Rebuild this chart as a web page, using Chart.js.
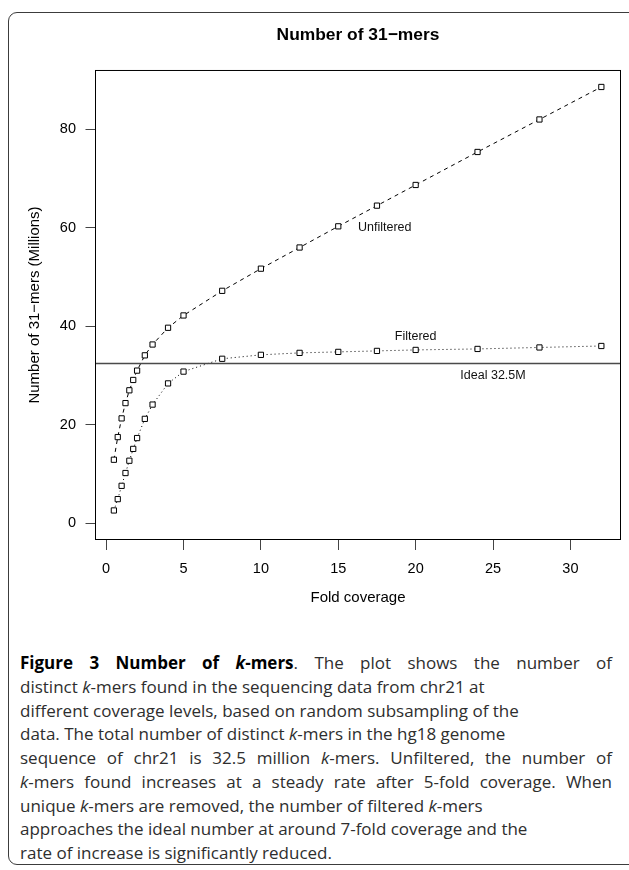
<!DOCTYPE html>
<html>
<head>
<meta charset="utf-8">
<script src="https://cdn.jsdelivr.net/npm/chart.js@4.4.1/dist/chart.umd.min.js"></script>
<style>
  body { margin: 0; width: 629px; height: 870px; overflow: hidden; background: #fff; position: relative; }
  .frame { position: absolute; left: 8px; top: 12px; width: 640px; height: 853px;
           border: 1.5px solid #3c3c3c; border-radius: 9px; box-sizing: border-box; }
  #plot { position: absolute; left: 0; top: 0; width: 629px; height: 620px; }
  .caption { position: absolute; left: 20px; top: 651px; width: 592px;
             font-family: "Open Sans", "DejaVu Sans Condensed", sans-serif;
             font-size: 17px; line-height: 23.75px; color: #2e2e2e; }
  .caption div { white-space: nowrap; }
  .caption .full { text-align: justify; text-align-last: justify; }
  .caption b { color: #000; }
</style>
</head>
<body>
<div class="frame"></div>
<div id="plot"><canvas id="chart" width="629" height="620"></canvas></div>
<div class="caption">
  <div class="full"><b>Figure 3 Number of <i>k</i>-mers</b>. The plot shows the number of</div>
  <div>distinct <i>k</i>-mers found in the sequencing data from chr21 at</div>
  <div>different coverage levels, based on random subsampling of the</div>
  <div>data. The total number of distinct <i>k</i>-mers in the hg18 genome</div>
  <div class="full">sequence of chr21 is 32.5 million <i>k</i>-mers. Unfiltered, the number of</div>
  <div class="full"><i>k</i>-mers found increases at a steady rate after 5-fold coverage. When</div>
  <div>unique <i>k</i>-mers are removed, the number of filtered <i>k</i>-mers</div>
  <div>approaches the ideal number at around 7-fold coverage and the</div>
  <div>rate of increase is significantly reduced.</div>
</div>
<script>
// datos
var FOLD = [0.5, 0.75, 1, 1.25, 1.5, 1.75, 2, 2.5, 3, 4, 5, 7.5, 10, 12.5, 15, 17.5, 20, 24, 28, 32];
var UNFILTERED = [12.9, 17.5, 21.3, 24.4, 27.0, 29.1, 31.0, 34.1, 36.3, 39.7, 42.2, 47.2, 51.7, 56.0, 60.3, 64.5, 68.7, 75.4, 82.0, 88.6];
var FILTERED = [2.6, 4.9, 7.6, 10.2, 12.7, 15.1, 17.3, 21.2, 24.1, 28.4, 30.8, 33.4, 34.2, 34.6, 34.8, 35.0, 35.2, 35.4, 35.7, 36.0];
var IDEAL = 32.5;
var X_TICKS = [0, 5, 10, 15, 20, 25, 30];
var Y_TICKS = [0, 20, 40, 60, 80];
// etiquetas de texto dentro del grafico (en unidades de datos)
var NOTE_TEXT = ['Unfiltered', 'Filtered', 'Ideal 32.5M'];
var NOTE_X = [18, 20, 25];
var NOTE_Y = [60, 38, 30];

var FONT = '"Liberation Sans", Arial, sans-serif';

function toPoints(xs, ys) {
    return xs.map((x, i) => ({ x: x, y: ys[i] }));
}

// caja completa alrededor del area del grafico + linea ideal + textos
var boxPlugin = {
    id: 'rbox',
    afterDatasetsDraw: function(chart) {
        var ctx = chart.ctx;
        var a = chart.chartArea;
        var xs = chart.scales.x, ys = chart.scales.y;
        ctx.save();
        // linea ideal
        var yi = Math.round(ys.getPixelForValue(IDEAL)) + 0.5;
        ctx.strokeStyle = '#4a4a4a';
        ctx.lineWidth = 1.3;
        ctx.beginPath();
        ctx.moveTo(a.left, yi);
        ctx.lineTo(a.right, yi);
        ctx.stroke();
        // caja
        ctx.strokeStyle = '#000';
        ctx.lineWidth = 1;
        ctx.strokeRect(a.left + 0.5, a.top + 0.5, a.right - a.left - 1, a.bottom - a.top - 1);
        // textos
        ctx.fillStyle = '#111';
        ctx.font = '12.5px ' + FONT;
        ctx.textAlign = 'center';
        ctx.textBaseline = 'middle';
        for (var i = 0; i < NOTE_TEXT.length; i++) {
            ctx.fillText(NOTE_TEXT[i], xs.getPixelForValue(NOTE_X[i]), ys.getPixelForValue(NOTE_Y[i]));
        }
        ctx.restore();
    }
};

var ctx = document.getElementById('chart').getContext('2d');
var myChart = new Chart(ctx, {
    type: 'line',
    data: {
        datasets: [{
            label: 'Unfiltered',
            data: toPoints(FOLD, UNFILTERED),
            borderColor: '#000',
            borderWidth: 1,
            borderDash: [4, 4],
            pointStyle: 'rect',
            pointRadius: 3.7,
            pointBorderWidth: 1,
            pointBorderColor: '#000',
            pointBackgroundColor: '#fff',
            tension: 0
        }, {
            label: 'Filtered',
            data: toPoints(FOLD, FILTERED),
            borderColor: '#000',
            borderWidth: 1,
            borderDash: [1, 3],
            pointStyle: 'rect',
            pointRadius: 3.7,
            pointBorderWidth: 1,
            pointBorderColor: '#000',
            pointBackgroundColor: '#fff',
            tension: 0
        }]
    },
    options: {
        responsive: false,
        animation: false,
        layout: { padding: { left: 0, right: 8, top: 0, bottom: 0 } },
        plugins: {
            legend: { display: false },
            tooltip: { enabled: false },
            title: {
                display: true,
                text: 'Number of 31\u2212mers',
                fullSize: false,
                color: '#000',
                font: { family: FONT, size: 17.4, weight: 'bold', lineHeight: 1.2 },
                padding: { top: 24.5, bottom: 24.6 }
            }
        },
        scales: {
            x: {
                type: 'linear',
                min: -0.72,
                max: 33.27,
                afterBuildTicks: function(s) { s.ticks = X_TICKS.map(v => ({ value: v })); },
                afterFit: function(s) { s.height = 80; },
                grid: { display: true, drawOnChartArea: false, drawTicks: true, tickLength: 10, color: '#444' },
                border: { display: false },
                ticks: { color: '#000', padding: 10, maxRotation: 0, autoSkip: false,
                         font: { family: FONT, size: 14.5, lineHeight: 1.2 } },
                title: { display: true, text: 'Fold coverage', color: '#000',
                         font: { family: FONT, size: 15, lineHeight: 1.2 },
                         padding: { top: 0, bottom: 13.5 } }
            },
            y: {
                type: 'linear',
                min: -3.4,
                max: 92.05,
                afterBuildTicks: function(s) { s.ticks = Y_TICKS.map(v => ({ value: v })); },
                afterFit: function(s) { s.width = 95; },
                grid: { display: true, drawOnChartArea: false, drawTicks: true, tickLength: 9.5, color: '#444' },
                border: { display: false },
                ticks: { color: '#000', padding: 9.5, autoSkip: false,
                         font: { family: FONT, size: 14.5, lineHeight: 1.2 } },
                title: { display: true, text: 'Number of 31\u2212mers (Millions)', color: '#000',
                         font: { family: FONT, size: 15, lineHeight: 1.2 },
                         padding: { top: 26, bottom: 0 } }
            }
        }
    },
    plugins: [boxPlugin]
});
</script>
</body>
</html>
